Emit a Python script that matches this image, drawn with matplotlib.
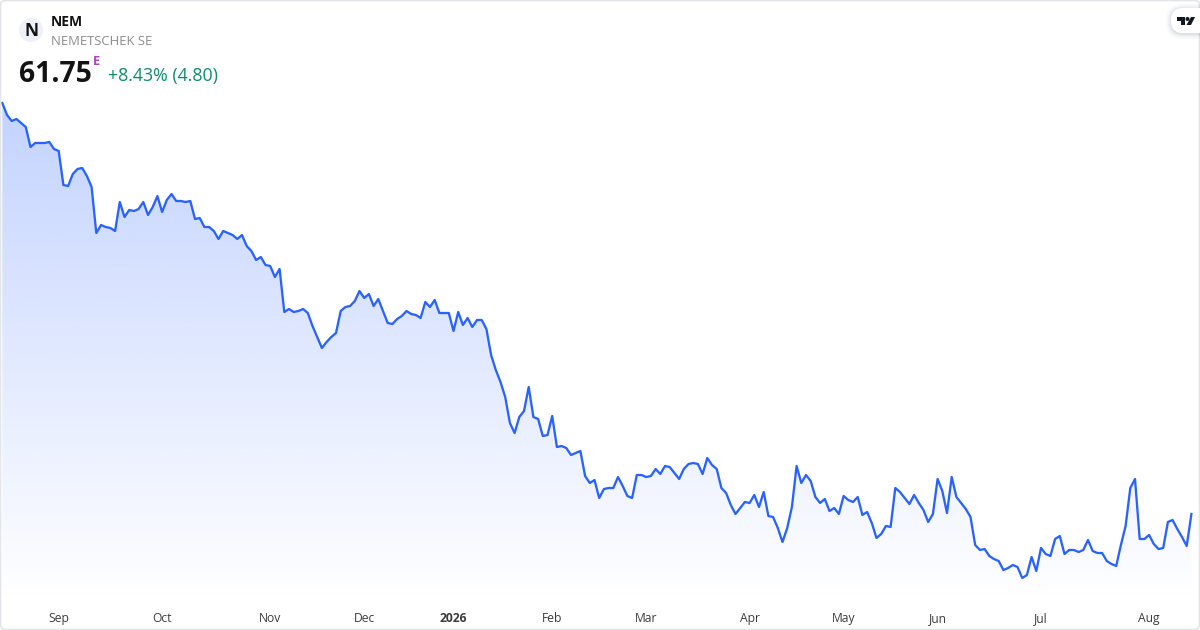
import numpy as np
import matplotlib.pyplot as plt
from matplotlib.patches import Circle, FancyBboxPatch, Polygon

# daily close
close_autumn = [
    143.95, 141.55, 140.35, 140.75, 139.95, 139.15, 135.15, 135.95, 135.95, 135.95,
    136.15, 134.75, 134.35, 127.55, 127.35, 129.75, 130.75, 130.95, 129.35, 127.15,
    117.95, 119.55, 119.15, 118.95, 118.35, 124.15, 121.15, 122.55, 122.35, 122.75,
    124.15, 121.55, 123.15, 125.35, 122.15, 124.55, 125.75, 124.35, 124.35, 124.15,
    124.35, 120.75, 120.95, 119.15, 119.15, 118.35, 116.75, 118.35, 117.95, 117.55,
    116.75, 117.55, 115.35, 114.35, 112.55, 113.15, 111.55, 111.35, 109.15, 110.75,
    102.15, 102.75, 102.15, 102.35, 102.75, 101.95, 99.35, 97.15, 94.95, 96.15,
    97.15, 97.95, 102.35, 103.15, 103.35, 104.35, 106.35, 104.95, 105.75, 103.35,
    104.75, 102.35, 99.95, 99.75, 100.75, 101.35, 102.35, 101.75, 101.55, 100.95,
    104.15, 103.15, 104.55, 101.95, 101.95, 101.95, 98.35, 102.15, 99.55, 100.95,
    99.15, 100.55, 100.55, 98.75, 93.55, 90.55, 88.15, 85.15, 79.95, 77.95,
    81.15, 82.35, 87.15, 81.15, 80.75, 77.35, 77.55, 81.35, 75.15, 75.35,
    74.95, 73.55, 73.95, 74.35, 69.35, 67.95, 68.55, 64.95,
]
close_spring = [
    66.75, 66.95, 66.95, 69.15, 67.35, 65.35, 64.95, 69.55, 69.55, 69.15,
    69.35, 70.75, 69.75, 71.35, 71.15, 69.95, 68.75, 70.75, 71.75, 71.95,
    71.75, 69.75, 72.95, 71.55, 70.75, 66.95, 65.95, 63.55, 61.75, 62.95,
    64.15, 63.95, 65.55, 63.15, 66.15, 61.35, 61.15, 58.95, 56.15, 58.95,
    63.15, 71.35, 67.95, 69.55, 68.35, 65.15, 63.95, 64.75, 62.35, 62.95,
    61.75, 65.35, 64.55, 64.15, 65.15, 61.55, 62.15, 59.95, 56.95, 57.75,
    59.35, 59.15, 66.95, 66.15,
]
close_summer = [
    64.95, 63.75, 65.55, 63.95, 62.55, 60.15, 61.75, 68.75, 66.35, 61.95,
    69.15, 65.15, 63.95, 62.75, 61.15, 55.55, 54.55, 54.75, 53.35, 52.75,
    52.35, 50.55, 50.95, 51.55, 51.15, 48.95, 49.55, 53.15, 50.35, 54.95,
    53.75, 53.35, 56.75, 57.35, 53.75, 54.55, 54.55, 54.15, 54.55, 56.55,
    54.35, 53.95, 53.95, 52.35, 51.75, 51.35, 55.55, 59.35, 66.95, 68.75,
    56.75, 56.75, 57.55, 55.75, 54.75, 54.95, 60.15, 60.55, 58.75, 57.15,
    55.35, 61.75,
]
close = close_autumn + close_spring + close_summer

month_pos = [12, 34, 57, 77, 96, 117, 137, 159, 179, 199, 221, 244]
month_labels = ['Sep', 'Oct', 'Nov', 'Dec', '2026', 'Feb', 'Mar', 'Apr', 'May', 'Jun', 'Jul', 'Aug']

symbol = 'NEM'
company = 'NEMETSCHEK SE'
last_price = '61.75'
change = '+8.43% (4.80)'

plt.rcParams['font.family'] = ['Open Sans', 'DejaVu Sans']

LINE = '#2962ff'
W, H = 1200, 630
XLIM = (-0.49, 254.83)
YLIM = (38.55, 164.55)
fig = plt.figure(figsize=(12, 6.3), dpi=100, facecolor='white')

ax = fig.add_axes([0, 0, 1, 1])
x = np.arange(len(close))
ax.patch.set_alpha(0)
for s in ax.spines.values():
    s.set_visible(False)
ax.set_yticks([])
ax.set_xticks(month_pos, month_labels)
ax.tick_params(axis='x', length=0, pad=-13.2, labelsize=8.7, labelcolor='#3c3c3c')
ax.get_xticklabels()[4].set_fontweight('bold')

# area under the line fades out downwards
grad = np.zeros((256, 1, 4))
grad[:, :, :3] = [41 / 255, 98 / 255, 1.0]
grad[:, :, 3] = np.linspace(0.28, 0.0, 256)[:, None]
area = ax.fill_between(x, close, YLIM[0], color='none', lw=0)
img = ax.imshow(grad, aspect='auto', extent=[x[0], x[-1], 44, max(close)], zorder=1,
                interpolation='bilinear')
img.set_clip_path(area.get_paths()[0], ax.transData)
ax.set_xlim(*XLIM)
ax.set_ylim(*YLIM)
ax.plot(x, close, color=LINE, lw=1.65, solid_joinstyle='round', zorder=2)

# header, frame and logo in pixel coordinates
ui = fig.add_axes([0, 0, 1, 1], zorder=3)
ui.set_xlim(0, W)
ui.set_ylim(H, 0)
ui.axis('off')
ui.patch.set_alpha(0)

ui.add_patch(FancyBboxPatch((0.5, 0.5), W - 1, H - 1, boxstyle='round,pad=0,rounding_size=5',
                            fc='none', ec='#e3e5ea', lw=1.2))
ui.add_patch(Circle((31, 30), 12, fc='#eef1f9', ec='none'))
ui.text(31, 30.5, symbol[0], ha='center', va='center', fontsize=12.5, fontweight='bold', color='#131313')
ui.text(51, 22, symbol, va='center', fontsize=10, fontweight='bold', color='#131313')
ui.text(51, 41.5, company, va='center', fontsize=9.45, color='#8c8c8c')
ui.text(19, 74, last_price, va='center', fontsize=20.4, fontweight='bold', color='#131313')
ui.text(93, 61.5, 'E', va='center', fontsize=9.2, fontweight='bold', color='#ab47bc')
ui.text(108, 76, change, va='center', fontsize=12.8, color='#0c8a70')

# soft shadow round the logo pill
for grow, alpha in [(5, 0.03), (3.5, 0.04), (2, 0.05), (1, 0.06)]:
    ui.add_patch(FancyBboxPatch((1171 - grow, 9 - grow), 50 + 2 * grow, 25 + 2 * grow,
                                boxstyle=f'round,pad=0,rounding_size={12 + grow}',
                                fc='#5a6072', ec='none', alpha=alpha))
ui.add_patch(FancyBboxPatch((1171, 8), 50, 25, boxstyle='round,pad=0,rounding_size=12', fc='white', ec='none'))
ui.add_patch(Polygon([(1177, 17), (1185, 17), (1185, 25), (1181, 25), (1181, 21), (1177, 21)], fc='#131722', ec='none'))
ui.add_patch(Circle((1187.5, 19), 2, fc='#131722', ec='none'))
ui.add_patch(Polygon([(1191, 17), (1195, 17), (1191, 25), (1186.5, 25)], fc='#131722', ec='none'))

fig.savefig('out.png', dpi=100)
